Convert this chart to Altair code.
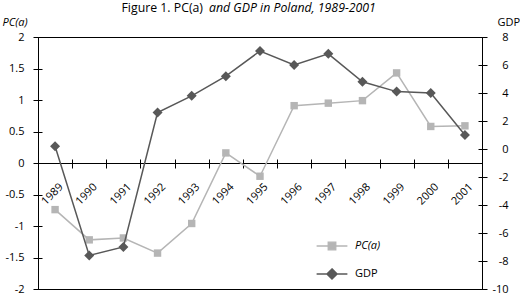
import altair as alt
import pandas as pd

years = list(range(1989, 2002))
pc_a = [-0.74, -1.22, -1.19, -1.43, -0.96, 0.16, -0.21, 0.91, 0.95, 0.99, 1.43, 0.58, 0.59]
gdp = [0.2, -7.6, -7.0, 2.6, 3.8, 5.2, 7.0, 6.0, 6.8, 4.8, 4.1, 4.0, 1.0]
series = ["PC(a)", "GDP"]
colors = ["#b5b5b5", "#585858"]
pc_ticks = [-2, -1.5, -1, -0.5, 0, 0.5, 1, 1.5, 2]
gdp_ticks = [-10, -8, -6, -4, -2, 0, 2, 4, 6, 8]
x_bounds = [y - 0.5 for y in years]

FONT = "Open Sans"

df_pc = pd.DataFrame({"year": years, "value": pc_a, "series": series[0]})
df_gdp = pd.DataFrame({"year": years, "value": gdp, "series": series[1]})

sq = "M-1.1,0H1.1M-0.27,-0.27H0.27V0.27H-0.27Z"
dm = "M-1.1,0H1.1M0,-0.37L0.37,0L0,0.37L-0.37,0Z"


def make_legend(path, col, ly, style):
    return alt.Legend(
        title=None, orient="none", legendX=279, legendY=ly, padding=0,
        symbolSize=784, symbolType=path, symbolFillColor=col, symbolStrokeColor=col,
        symbolStrokeWidth=1.3, symbolOpacity=1, rowPadding=0, labelOffset=8,
        labelFont=FONT, labelFontSize=11, labelColor="black", labelFontStyle=style,
    )


x_scale = alt.Scale(domain=[1988.5, 2001.5], nice=False, zero=False)
x_main = alt.X(
    "year:Q", scale=x_scale,
    axis=alt.Axis(
        orient="bottom", values=x_bounds, labelExpr="'' + (datum.value + 0.5)",
        labelAngle=-45, labelAlign="right", labelBaseline="middle",
        labelOffset=23, labelPadding=17, tickSize=5, offset=-126,
        labelFlush=False, labelOverlap=False, labelBound=False,
        grid=False, title=None,
    ),
)
x_plain = alt.X("year:Q", scale=x_scale, axis=None)
x_inner = alt.X(
    "year:Q", scale=x_scale,
    axis=alt.Axis(orient="bottom", values=x_bounds, tickSize={"expr": "-4"}, offset=-126,
                  labels=False, domain=False, grid=False, title=None),
)

pc_axis = alt.Axis(
    orient="left", values=pc_ticks, labelExpr="'' + datum.value", tickSize=5, labelPadding=9,
    grid=False, title="PC(a)", titleAngle=0, titleX=-36, titleY=-12,
    titleAlign="left", titleBaseline="alphabetic", titleFontStyle="italic",
    titleFontWeight="normal", titleFont=FONT, titleFontSize=11,
)
gdp_axis = alt.Axis(
    orient="right", values=gdp_ticks, labelExpr="'' + datum.value", tickSize=5,
    labelPadding=21, labelAlign="right",
    grid=False, title="GDP", titleAngle=0, titleX=15, titleY=-12,
    titleAlign="left", titleBaseline="alphabetic",
    titleFontWeight="normal", titleFont=FONT, titleFontSize=11,
)

pc_scale = alt.Scale(domain=[-2, 2], nice=False, zero=False)
gdp_scale = alt.Scale(domain=[-10, 8], nice=False, zero=False)
y_pc = alt.Y("value:Q", scale=pc_scale, axis=pc_axis)
y_gdp = alt.Y("value:Q", scale=gdp_scale, axis=gdp_axis)
y_pc_inner = alt.Y("value:Q", scale=pc_scale,
                   axis=alt.Axis(orient="left", values=pc_ticks, tickSize={"expr": "-4"},
                                 labels=False, domain=False, grid=False, title=None))
y_gdp_inner = alt.Y("value:Q", scale=gdp_scale,
                    axis=alt.Axis(orient="right", values=gdp_ticks, tickSize={"expr": "-4"},
                                  labels=False, domain=False, grid=False, title=None))

c_pc = alt.Color("series:N", scale=alt.Scale(domain=[series[0]], range=[colors[0]]),
                 legend=make_legend(sq, colors[0], 194, "italic"))
c_gdp = alt.Color("series:N", scale=alt.Scale(domain=[series[1]], range=[colors[1]]),
                  legend=make_legend(dm, colors[1], 222, "normal"))

pc_line = alt.Chart(df_pc).mark_line(strokeWidth=1.5, color=colors[0]).encode(x=x_main, y=y_pc)
pc_pts = alt.Chart(df_pc).mark_point(filled=True, shape="square", size=55, opacity=1).encode(x=x_main, y=y_pc, color=c_pc)
gdp_line = alt.Chart(df_gdp).mark_line(strokeWidth=1.5, color=colors[1]).encode(x=x_plain, y=y_gdp)
gdp_pts = alt.Chart(df_gdp).mark_point(filled=True, shape="diamond", size=100, opacity=1).encode(x=x_plain, y=y_gdp, color=c_gdp)

# invisible layers that only carry the inner halves of the crossing ticks
ticks_a = alt.Chart(df_pc).mark_point(opacity=0).encode(x=x_inner, y=y_pc_inner)
ticks_b = alt.Chart(df_gdp).mark_point(opacity=0).encode(x=x_plain, y=y_gdp_inner)

title_df = pd.DataFrame({"a": ["Figure 1. PC(a)"], "b": ["and GDP in Poland, 1989-2001"]})
t1 = alt.Chart(title_df).mark_text(font=FONT, fontSize=12.3, align="right", baseline="alphabetic", color="black").encode(
    text="a:N", x=alt.value(165), y=alt.value(-25))
t2 = alt.Chart(title_df).mark_text(font=FONT, fontSize=12.3, fontStyle="italic", align="left", baseline="alphabetic", color="black").encode(
    text="b:N", x=alt.value(171), y=alt.value(-25))

chart = alt.layer(
    alt.layer(pc_line, pc_pts),
    alt.layer(gdp_line, gdp_pts),
    ticks_a, ticks_b,
    t1, t2,
).resolve_scale(y="independent", x="independent", color="independent").properties(
    width=444, height=252,
    autosize=alt.AutoSizeParams(type="none"),
    padding={"left": 38, "top": 37, "right": 38, "bottom": 7},
).configure_view(stroke="black", strokeWidth=1).configure_axis(
    domainColor="black", tickColor="black", labelColor="black", titleColor="black",
    labelFont=FONT, labelFontSize=11, domainWidth=1, tickWidth=1,
)

chart.save("out.html", embed_options={"renderer": "svg", "actions": False})
